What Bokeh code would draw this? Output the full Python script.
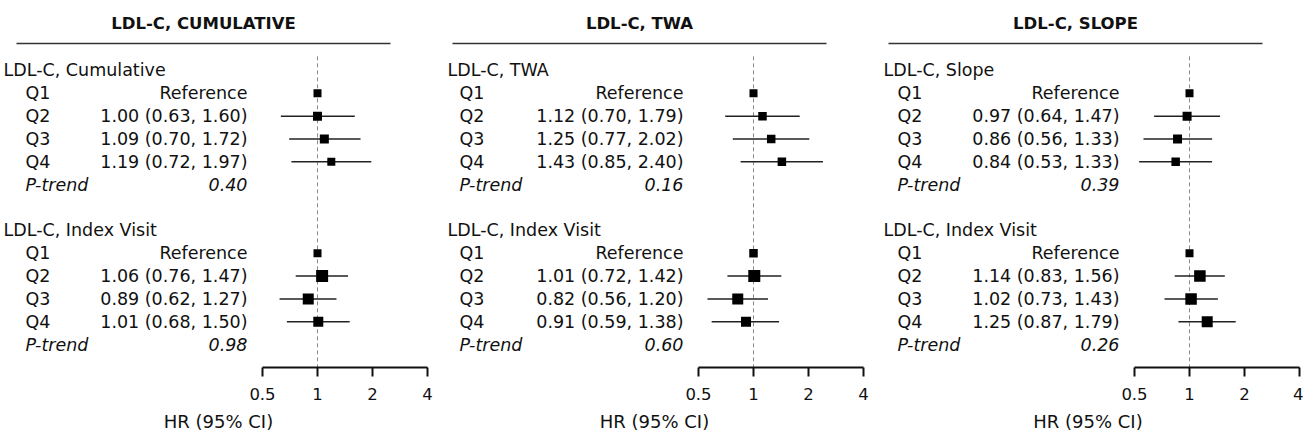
from bokeh.plotting import figure
from bokeh.layouts import row
from bokeh.models import Range1d, FixedTicker, CustomJSTickFormatter, ColumnDataSource
from bokeh.core.properties import value
from bokeh.embed import file_html
from bokeh.resources import INLINE

# ---------------- data ----------------
panel_titles = ["LDL-C, CUMULATIVE", "LDL-C, TWA", "LDL-C, SLOPE"]
group1_headers = ["LDL-C, Cumulative", "LDL-C, TWA", "LDL-C, Slope"]
group2_header = "LDL-C, Index Visit"
quartiles = ["Q1", "Q2", "Q3", "Q4"]

# HR, lower, upper for Q1..Q4 (Q1 = reference)
cum_hr = [1.00, 1.00, 1.09, 1.19]
cum_lo = [None, 0.63, 0.70, 0.72]
cum_hi = [None, 1.60, 1.72, 1.97]
cum_p = "0.40"
cum_idx_hr = [1.00, 1.06, 0.89, 1.01]
cum_idx_lo = [None, 0.76, 0.62, 0.68]
cum_idx_hi = [None, 1.47, 1.27, 1.50]
cum_idx_p = "0.98"

twa_hr = [1.00, 1.12, 1.25, 1.43]
twa_lo = [None, 0.70, 0.77, 0.85]
twa_hi = [None, 1.79, 2.02, 2.40]
twa_p = "0.16"
twa_idx_hr = [1.00, 1.01, 0.82, 0.91]
twa_idx_lo = [None, 0.72, 0.56, 0.59]
twa_idx_hi = [None, 1.42, 1.20, 1.38]
twa_idx_p = "0.60"

slope_hr = [1.00, 0.97, 0.86, 0.84]
slope_lo = [None, 0.64, 0.56, 0.53]
slope_hi = [None, 1.47, 1.33, 1.33]
slope_p = "0.39"
slope_idx_hr = [1.00, 1.14, 1.02, 1.25]
slope_idx_lo = [None, 0.83, 0.73, 0.87]
slope_idx_hi = [None, 1.56, 1.43, 1.79]
slope_idx_p = "0.26"

tick_values = [0.5, 1, 2, 4]
axis_title = "HR (95% CI)"

# marker sizes (style: box weights)
size_g1 = [[8, 9, 9, 8], [8, 8.5, 8.5, 8.5], [8, 9, 9, 8.5]]
size_g2 = [[8, 12, 11, 10], [8.5, 12, 11, 10], [8, 11.5, 11.5, 11]]

panels = [
    (cum_hr, cum_lo, cum_hi, cum_p, cum_idx_hr, cum_idx_lo, cum_idx_hi, cum_idx_p),
    (twa_hr, twa_lo, twa_hi, twa_p, twa_idx_hr, twa_idx_lo, twa_idx_hi, twa_idx_p),
    (slope_hr, slope_lo, slope_hi, slope_p, slope_idx_hr, slope_idx_lo, slope_idx_hi, slope_idx_p),
]

# ---------------- layout / style ----------------
FONT = value("DejaVu Sans")
FS = value("17.5px")
PXD = 55.0                      # px per doubling on the HR axis
widths = [436, 436, 431]
ref_px = [317, 317, 317]        # position of HR=1 inside each figure
header_off = [-314, -306, -306]
q_off = [-292, -294, -292]
FRAME_H = 367
Y_TOP, Y_BOT = -3.063, 13.0     # row units


def xpos(off):
    return 2 ** (off / PXD)


def fmt(h, l, u):
    return "%.2f (%.2f, %.2f)" % (h, l, u)


figs = []
for i, (hr1, lo1, hi1, p1, hr2, lo2, hi2, p2) in enumerate(panels):
    w = widths[i]
    d = ref_px[i]
    p = figure(x_axis_type="log",
               x_range=Range1d(2 ** (-d / PXD), 2 ** ((w - d) / PXD)),
               y_range=Range1d(Y_BOT, Y_TOP),
               frame_width=w, frame_height=FRAME_H,
               min_border_left=0, min_border_right=0, min_border_top=0, min_border_bottom=0,
               toolbar_location=None, output_backend="svg", y_axis_location=None)
    p.outline_line_color = None
    p.xgrid.visible = False
    p.ygrid.visible = False
    p.background_fill_color = "white"
    p.border_fill_color = "white"

    # title + rule
    p.text(x=[xpos(-114)], y=[-2.06], text=[panel_titles[i]], text_font=FONT,
           text_font_size=value("16.5px"), text_font_style="bold",
           text_align="center", text_baseline="middle", text_color="#111111")
    p.segment(x0=[xpos(-301)], x1=[xpos(73)], y0=[-1.18], y1=[-1.18],
              line_color="#333333", line_width=1.5)

    # reference dashed line
    p.segment(x0=[1], x1=[1], y0=[-0.62], y1=[Y_BOT], line_color="#8a8a8a",
              line_width=1, line_dash="4 3")

    groups = [(group1_headers[i], hr1, lo1, hi1, p1, 0, size_g1[i]),
              (group2_header, hr2, lo2, hi2, p2, 7, size_g2[i])]
    for header, hr, lo, hi, pv, r0, sizes in groups:
        rows = [r0 + 1 + k for k in range(4)]
        labels_right = ["Reference"] + [fmt(hr[k], lo[k], hi[k]) for k in range(1, 4)]
        # header
        p.text(x=[xpos(header_off[i])], y=[r0], text=[header], text_font=FONT, text_font_size=FS,
               text_align="left", text_baseline="middle", text_color="#111111")
        # quartile labels
        p.text(x=[xpos(q_off[i])] * 4, y=rows, text=quartiles, text_font=FONT, text_font_size=FS,
               text_align="left", text_baseline="middle", text_color="#111111")
        p.text(x=[xpos(-70)] * 4, y=rows, text=labels_right, text_font=FONT, text_font_size=FS,
               text_align="right", text_baseline="middle", text_color="#111111")
        # p-trend
        p.text(x=[xpos(q_off[i])], y=[r0 + 5], text=["P-trend"], text_font=FONT, text_font_size=FS,
               text_font_style="italic", text_align="left", text_baseline="middle",
               text_color="#111111")
        p.text(x=[xpos(-70)], y=[r0 + 5], text=[pv], text_font=FONT, text_font_size=FS,
               text_font_style="italic", text_align="right", text_baseline="middle",
               text_color="#111111")
        # CIs
        ci = ColumnDataSource(dict(lo=lo[1:], hi=hi[1:], y=rows[1:]))
        p.segment(x0="lo", x1="hi", y0="y", y1="y", source=ci, line_color="#222222",
                  line_width=1.5)
        pts = ColumnDataSource(dict(x=hr, y=rows, s=sizes))
        p.scatter(x="x", y="y", size="s", source=pts, marker="square",
                  fill_color="black", line_color="black", line_width=0)

    ax = p.xaxis[0]
    ax.ticker = FixedTicker(ticks=tick_values, minor_ticks=[])
    ax.formatter = CustomJSTickFormatter(code="return tick.toString();")
    ax.bounds = (tick_values[0], tick_values[-1])
    ax.axis_line_width = 2
    ax.axis_line_color = "#111111"
    ax.major_tick_line_width = 2
    ax.major_tick_line_color = "#111111"
    ax.major_tick_out = 9
    ax.major_tick_in = 0
    ax.minor_tick_out = 0
    ax.minor_tick_in = 0
    ax.major_label_text_font = "DejaVu Sans"
    ax.major_label_text_font_size = "16.5px"
    ax.major_label_text_color = "#111111"
    ax.major_label_standoff = 11
    ax.axis_label = axis_title
    ax.axis_label_text_font = "DejaVu Sans"
    ax.axis_label_text_font_size = "18px"
    ax.axis_label_text_font_style = "normal"
    ax.axis_label_text_color = "#111111"
    ax.axis_label_standoff = 8
    figs.append(p)

layout = row(*figs, spacing=0)
open("out.html", "w").write(file_html(layout, INLINE))
